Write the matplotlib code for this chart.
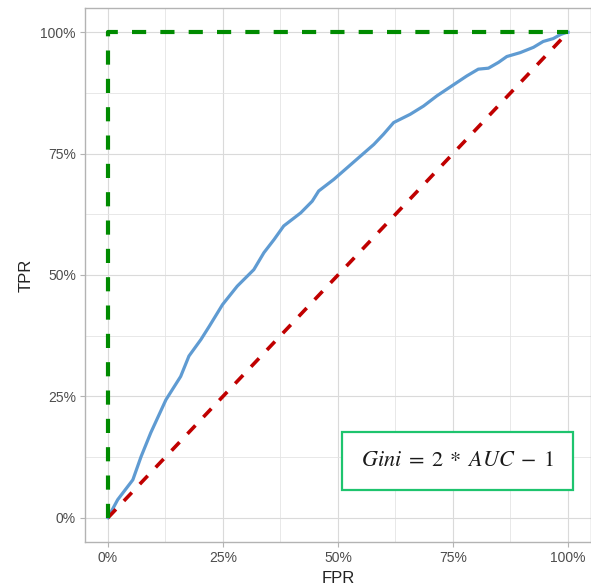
import matplotlib
matplotlib.use('Agg')
import matplotlib.pyplot as plt
from matplotlib.ticker import PercentFormatter, MultipleLocator

# ROC curve
fpr = [0.0, 0.021, 0.054, 0.072, 0.093, 0.126, 0.158, 0.176, 0.202, 0.220,
       0.249, 0.281, 0.317, 0.339, 0.361, 0.382, 0.419, 0.444, 0.458, 0.491,
       0.520, 0.549, 0.578, 0.599, 0.621, 0.657, 0.686, 0.715, 0.753, 0.780,
       0.805, 0.827, 0.849, 0.867, 0.896, 0.925, 0.946, 0.968, 0.983, 0.997,
       1.0]
tpr = [0.0, 0.037, 0.078, 0.126, 0.175, 0.243, 0.291, 0.333, 0.367, 0.394,
       0.439, 0.477, 0.511, 0.546, 0.573, 0.601, 0.628, 0.652, 0.673, 0.697,
       0.721, 0.745, 0.769, 0.790, 0.814, 0.831, 0.848, 0.869, 0.893, 0.910,
       0.924, 0.926, 0.938, 0.950, 0.958, 0.969, 0.981, 0.987, 0.995, 1.0,
       1.0]

# reference lines: perfect model and random model
perfect_x = [0, 0, 1]
perfect_y = [0, 1, 1]
random_x = [0, 1]
random_y = [0, 1]

label_text = r'$Gini\;=\;2\;*\;AUC\;-\;1$'

plt.rcParams['font.family'] = ['Liberation Sans', 'DejaVu Sans']
plt.rcParams['mathtext.fontset'] = 'stix'

fig = plt.figure(figsize=(5.91, 5.87), dpi=100)
ax = fig.add_axes([0.1438, 0.0767, 0.8562, 0.9097])

ax.plot(fpr, tpr, color='#5F9BD2', lw=2.3, solid_joinstyle='round', zorder=3)
ax.plot(random_x, random_y, color='#C00000', lw=2.6, dashes=(3.2, 3.2), zorder=4)
ax.plot(perfect_x, perfect_y, color='#008B00', lw=3.0, dashes=(3.4, 3.4), zorder=5)

ax.text(0.76, 0.117, label_text, fontsize=16, ha='center', va='center',
        color='#1A1A1A', zorder=6,
        bbox=dict(boxstyle='square,pad=0.85', fc='white', ec='#1EC46E', lw=1.6))

ax.set_xlim(-0.05, 1.05)
ax.set_ylim(-0.05, 1.05)
ax.xaxis.set_major_locator(MultipleLocator(0.25))
ax.yaxis.set_major_locator(MultipleLocator(0.25))
ax.xaxis.set_minor_locator(MultipleLocator(0.125))
ax.yaxis.set_minor_locator(MultipleLocator(0.125))
ax.xaxis.set_major_formatter(PercentFormatter(1.0, decimals=0))
ax.yaxis.set_major_formatter(PercentFormatter(1.0, decimals=0))

ax.grid(which='major', color='#DADADA', lw=0.8)
ax.grid(which='minor', color='#E4E4E4', lw=0.6)
ax.set_axisbelow(True)
ax.tick_params(which='minor', length=0)
ax.tick_params(which='major', length=3.5, width=0.8, color='#B3B3B3',
               labelcolor='#4D4D4D', labelsize=10, pad=3)
for s in ax.spines.values():
    s.set_color('#B3B3B3')
    s.set_linewidth(1.0)

ax.set_xlabel('FPR', fontsize=12, color='#222222', labelpad=4)
ax.set_ylabel('TPR', fontsize=12, color='#222222', labelpad=5)

fig.savefig('out.png', dpi=100)
